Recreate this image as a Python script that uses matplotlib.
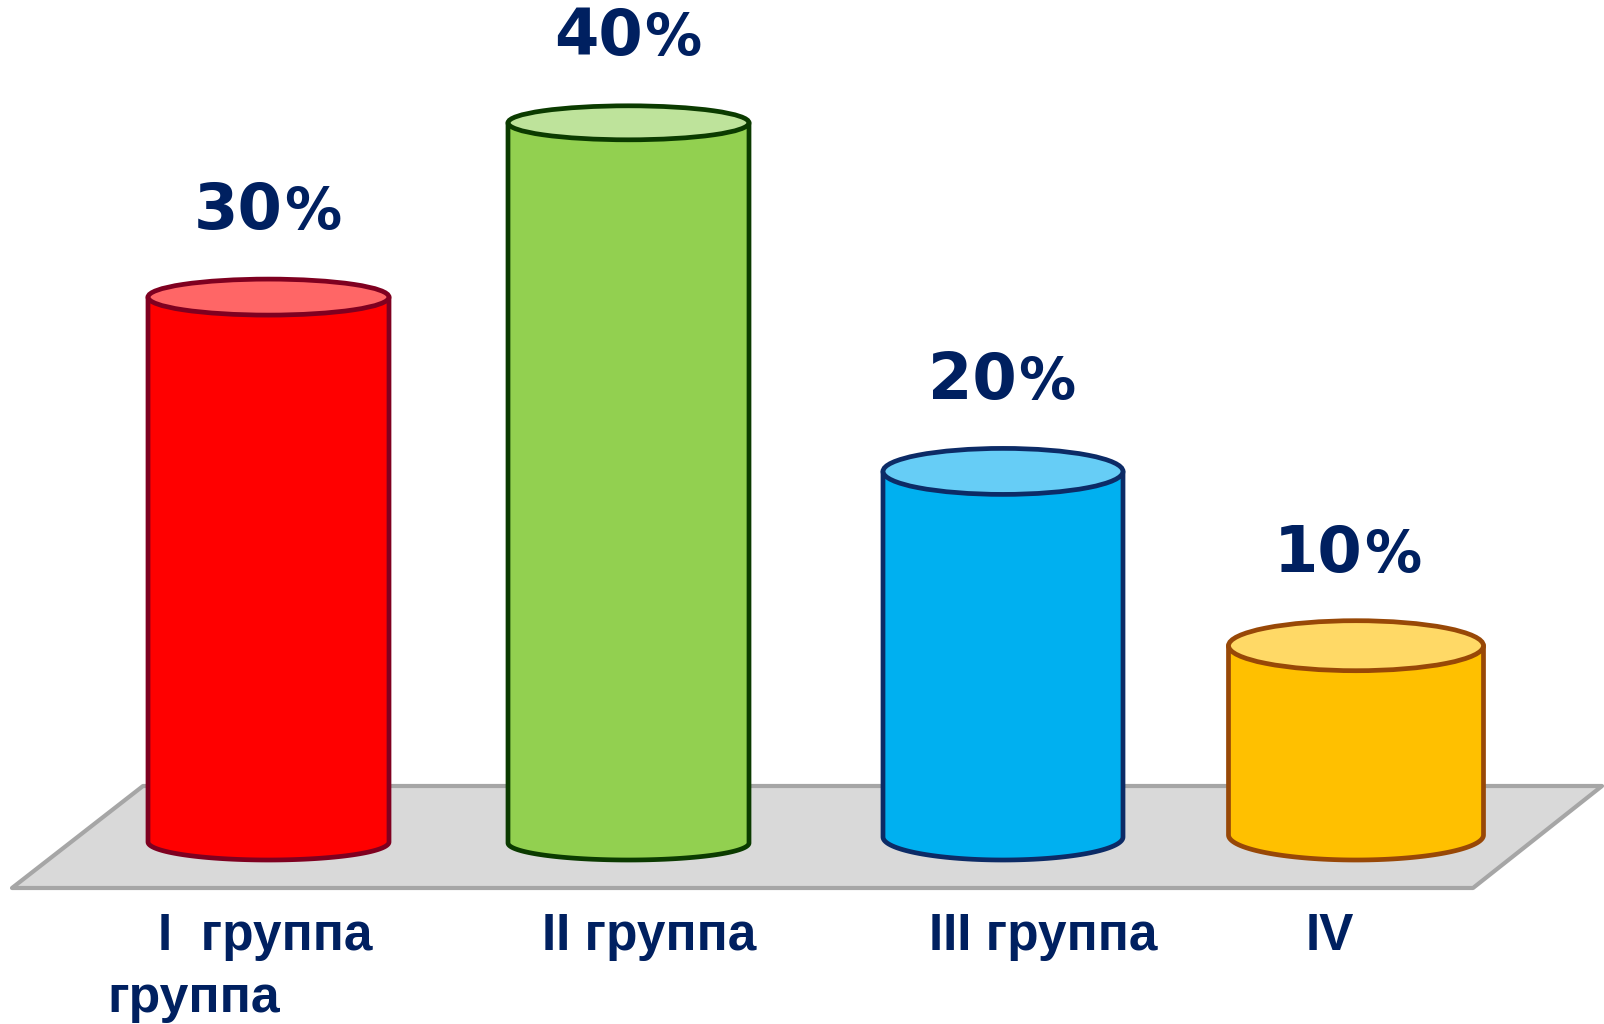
import numpy as np
import matplotlib.pyplot as plt
from matplotlib.patches import Ellipse, Polygon

# shares per group, %
VALUES = [30, 40, 20, 10]
CATEGORIES = ["I  группа", "II группа", "III группа", "IV"]
EXTRA_LINE = "группа"

SIDE_COLORS = ["#ff0000", "#92d050", "#00b0f0", "#ffc000"]
TOP_COLORS = ["#ff6666", "#bee39b", "#66cdf6", "#ffd966"]
EDGE_COLORS = ["#7f0020", "#0b3b00", "#0c2b66", "#984807"]
NAVY = "#002060"

W, H = 1604, 1024
PX_PER_PCT = 17.43          # vertical scale, pixels per percent
ZERO_PX = 820               # pixel row of the 0 % level

# layout of the cylinders (pixel units along x)
BAR_X = [268.5, 628.5, 1003, 1356]
BAR_W = [241, 241, 240, 255]
CAP_PX = [36, 34, 46, 50]    # ellipse heights, perspective
FLOOR_CONTACT_PX = 860       # lowest point of every bottom arc
LABEL_SHIFT = [0, 0, 0, -5]  # small horizontal nudge of value labels, pt

fig = plt.figure(figsize=(W / 100, H / 100), dpi=100)
ax = fig.add_axes([0, 0, 1, 1])
ax.set_xlim(0, W)
ax.set_ylim((ZERO_PX - H) / PX_PER_PCT, ZERO_PX / PX_PER_PCT)
ax.axis("off")


def px2v(py):
    return (ZERO_PX - py) / PX_PER_PCT


# grey floor
floor = [(143, 786), (1602, 786), (1473, 888), (12, 888)]
ax.add_patch(Polygon([(x / W, 1 - y / H) for x, y in floor], closed=True,
                     transform=fig.transFigure, facecolor="#d9d9d9",
                     edgecolor="#a6a6a6", lw=3, joinstyle="round", zorder=0))

t = np.linspace(np.pi, 2 * np.pi, 80)
for i, v in enumerate(VALUES):
    cx, w = BAR_X[i], BAR_W[i]
    eh = CAP_PX[i] / PX_PER_PCT
    base = px2v(FLOOR_CONTACT_PX - CAP_PX[i] / 2)
    arc_x = cx + w / 2 * np.cos(t)
    arc_y = base + eh / 2 * np.sin(t)
    pts = [(cx - w / 2, v)] + list(zip(arc_x, arc_y)) + [(cx + w / 2, v)]
    ax.add_patch(Polygon(pts, closed=True, facecolor=SIDE_COLORS[i],
                         edgecolor=EDGE_COLORS[i], lw=3.4, joinstyle="round",
                         zorder=2))
    ax.add_patch(Ellipse((cx, v), w, eh, facecolor=TOP_COLORS[i],
                         edgecolor=EDGE_COLORS[i], lw=3.4, zorder=3))
    # value label: number plus a smaller percent sign
    dy = (68 + 0.4 * (CAP_PX[i] - 35)) * 0.72
    dx = LABEL_SHIFT[i]
    ax.annotate(str(v), xy=(cx, v), xytext=(10 + dx, dy),
                textcoords="offset points", ha="right", va="baseline",
                fontsize=46, fontweight="bold", color=NAVY,
                family="DejaVu Sans", zorder=4)
    ax.annotate("%", xy=(cx, v), xytext=(11 + dx, dy),
                textcoords="offset points", ha="left", va="baseline",
                fontsize=41, fontweight="bold", color=NAVY,
                family="DejaVu Sans", zorder=4)

LABEL_X = [158, 542, 929, 1306]
for x, lab in zip(LABEL_X, CATEGORIES):
    fig.text(x / W, 1 - 950 / H, lab, ha="left", va="baseline", fontsize=37,
             fontweight="bold", color=NAVY, family="Liberation Sans")
fig.text(107 / W, 1 - 1012 / H, EXTRA_LINE, ha="left", va="baseline",
         fontsize=37.3, fontweight="bold", color=NAVY, family="Liberation Sans")

fig.savefig("out.png", dpi=100, facecolor="white")
